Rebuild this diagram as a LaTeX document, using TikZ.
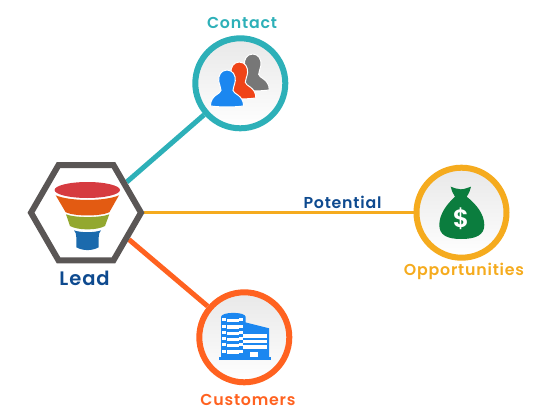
\documentclass[tikz,border=0pt]{standalone}
\usepackage{fontspec}
\setmainfont{Poppins}[BoldFont={Poppins SemiBold},LetterSpace=5]
\usetikzlibrary{shapes.geometric,backgrounds}
\definecolor{leadGray}{HTML}{5A5655}
\definecolor{leadBlue}{HTML}{0E4A8F}
\definecolor{contactTeal}{HTML}{2DB0B8}
\definecolor{custOrange}{HTML}{FF6220}
\definecolor{oppYellow}{HTML}{F5AB1E}
\definecolor{iconBlue}{HTML}{1B87F0}
\definecolor{iconRed}{HTML}{F04418}
\definecolor{iconGray}{HTML}{777777}
\definecolor{bagGreen}{HTML}{0B7D3E}
\definecolor{funRed}{HTML}{D63B40}
\definecolor{funOrange}{HTML}{E35B12}
\definecolor{funGreen}{HTML}{93A82F}
\definecolor{funBlue}{HTML}{1B6AAD}
\tikzset{
  ringnode/.style={circle,inner sep=0pt,minimum size=90pt,line width=6pt,top color=black!9,bottom color=white,draw=#1},
  labelnode/.style={font=\fontsize{15.8}{17}\selectfont\bfseries,text=#1,inner sep=0pt,anchor=base},
  pics/personicon/.style={code={
    \draw[pic actions,line width=1pt] (0,-13) .. controls (6.5,-13) and (9.5,-7) .. (9,-1.5)
      .. controls (8.5,3) and (6.5,6) .. (6.5,9) .. controls (6.5,13) and (18,14) .. (18,26)
      .. controls (10,27.5) and (-10,27.5) .. (-18,26) .. controls (-18,14) and (-6.5,13) .. (-6.5,9)
      .. controls (-6.5,6) and (-8.5,3) .. (-9,-1.5) .. controls (-9.5,-7) and (-6.5,-13) .. (0,-13) -- cycle;
  }}
}
\begin{document}
\begin{tikzpicture}[x=1pt,y=-1pt]
  \useasboundingbox (0,0) rectangle (542,415);
  \node[regular polygon,regular polygon sides=6,minimum size=110pt,inner sep=0pt,line width=6pt,draw=leadGray,fill=white] (lead) at (86,212.7) {};
  \node[ringnode=contactTeal] (contact) at (240.3,83.3) {};
  \node[ringnode=custOrange] (customers) at (244.3,337.3) {};
  \node[ringnode=oppYellow] (opportunities) at (461.5,212.7) {};

  \node[labelnode=leadBlue,font=\fontsize{19.5}{21}\selectfont\bfseries] (leadlabel) at (84.5,285.7) {Lead};
  \node[labelnode=contactTeal] (contactlabel) at (242,28.5) {Contact};
  \node[labelnode=custOrange] (customerslabel) at (248,405.7) {Customers};
  \node[labelnode=oppYellow] (opportunitieslabel) at (464,275) {Opportunities};
  \node[labelnode=leadBlue] (potentiallabel) at (342.5,208) {Potential};

  \begin{scope}[on background layer]
    \draw[contactTeal,line width=5pt] (lead.37) -- (contact);
    \draw[custOrange,line width=5pt] (lead.-32) -- (customers);
    \draw[oppYellow,line width=3.5pt] (lead) -- (opportunities);
  \end{scope}

  \fill[funRed] (87.3,190) ellipse (32.7 and 8);
  \fill[funOrange] (55.7,195.3) .. controls (70,201.5) and (105,201.5) .. (119,195.3) -- (109.3,212.3)
    .. controls (100,216.5) and (75,216.5) .. (65.7,212.3) -- cycle;
  \fill[funGreen] (66,214.3) .. controls (75,218) and (100,218) .. (109.3,214.3) -- (105,226)
    .. controls (97,230.5) and (78,230.5) .. (70,226) -- cycle;
  \fill[funBlue] (74,230.3) .. controls (80,232.8) and (95,232.8) .. (101,230.3) .. controls (99.5,232) and (98.7,234) .. (98.7,237.3)
    -- (98.7,247.3) .. controls (92,251) and (83,251) .. (76.3,247.3) -- (76.3,237.3)
    .. controls (76.3,234) and (75.5,232) .. (74,230.3) -- cycle;

  \pic[fill=iconGray,draw=white,scale=.92] at (252.7,66) {personicon};
  \pic[fill=iconRed,draw=white,scale=.92] at (239.3,74) {personicon};
  \pic[fill=iconBlue,draw=white,scale=.92] at (227,82) {personicon};

  \fill[iconBlue] (219,357.3) rectangle (271,360);
  \fill[iconBlue] (221,317) .. controls (221,311.5) and (245.7,311.5) .. (245.7,317) -- (245.7,357.3) -- (221,357.3) -- cycle;
  \fill[iconBlue] (245,322.3) -- (269,328.3) -- (269,357.3) -- (245,357.3) -- cycle;
  \foreach \y in {318,324.5,331,337,343,349.5}{
    \foreach \x/\w/\d in {222/3.5/0,227/5.5/.8,233/5.5/.8,239/4/0}{
      \fill[white] (\x,\y+\d) rectangle (\x+\w,\y+\d+3.3);
    }
  }
  \foreach \y in {334,339.5,345}{
    \fill[white] (243,\y) rectangle (267,\y+3.5);
  }
  \fill[white] (250,351.7) rectangle (258.3,357);

  \fill[bagGreen] (450.7,186.7) .. controls (454,187.5) and (457,189.5) .. (460.7,189.3)
    .. controls (464,189.5) and (468,187.5) .. (471,186.7) .. controls (470.5,190) and (469,193) .. (466.7,196.7)
    .. controls (476,204) and (484.3,214) .. (484.3,225) .. controls (484.3,235) and (476,239) .. (461,239)
    .. controls (447,239) and (439.3,235) .. (439.3,225) .. controls (439.3,214) and (447,204) .. (455,196.7)
    .. controls (453,193) and (451,190) .. (450.7,186.7) -- cycle;
  \node[font=\fontsize{25}{27}\selectfont\bfseries,text=white,inner sep=0pt] (dollar) at (461,219) {\$};
\end{tikzpicture}
\end{document}
